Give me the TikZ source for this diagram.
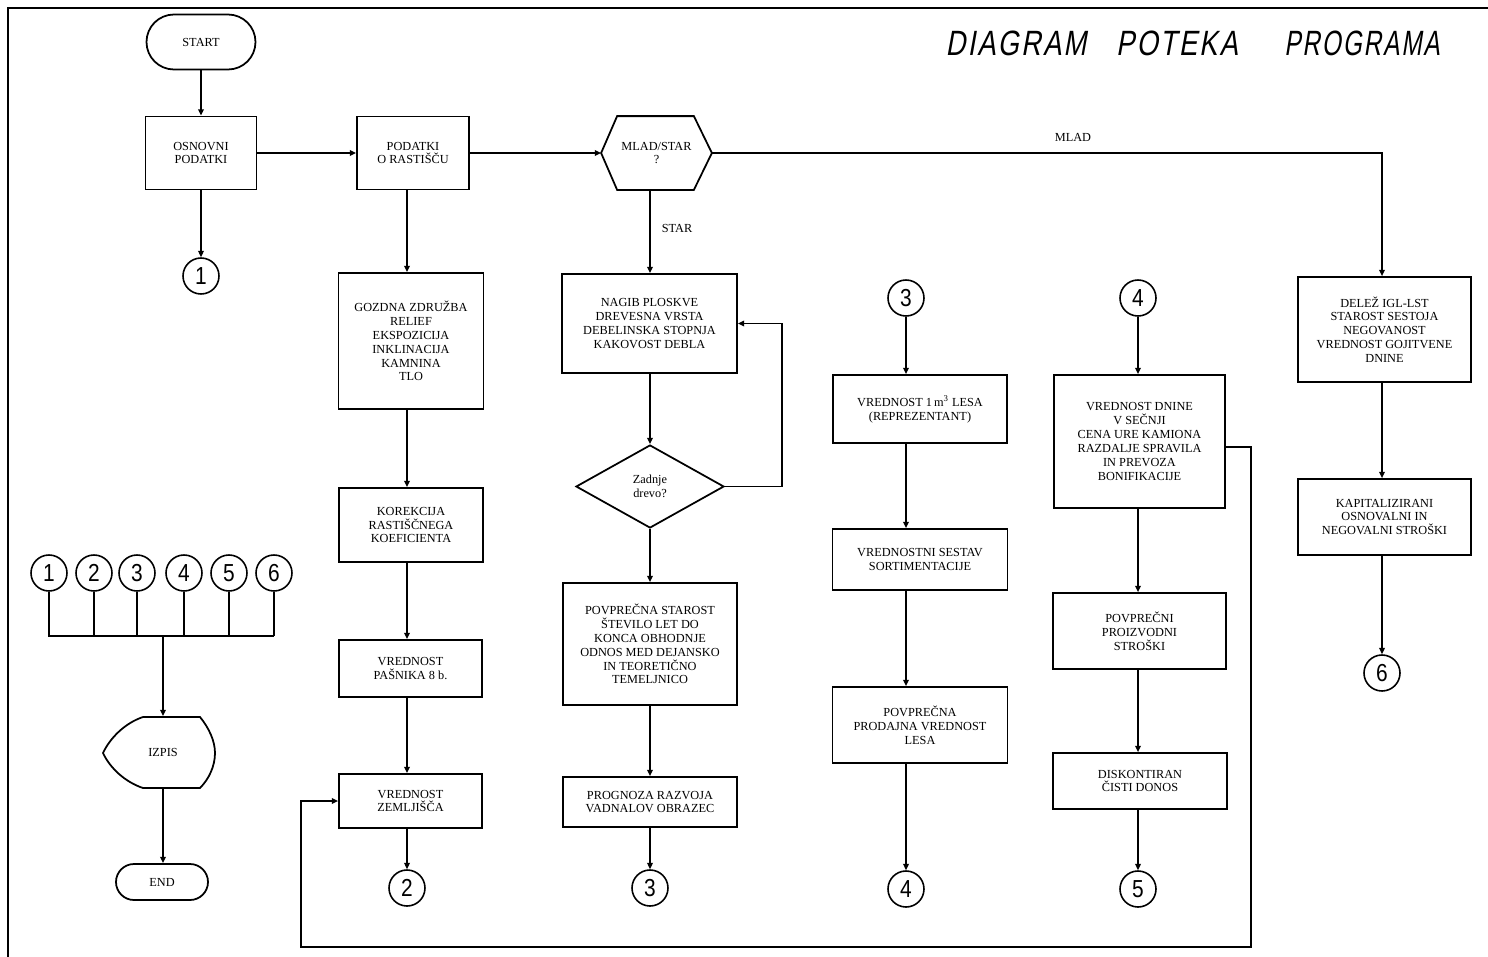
\documentclass[tikz,border=0pt]{standalone}
\usepackage{fontspec}
\setmainfont{Liberation Serif}
\newfontfamily\titlefont[FakeStretch=0.78,FakeSlant=0.18,LetterSpace=6]{Liberation Sans}
\newfontfamily\digitfont[FakeStretch=0.85]{Liberation Sans}
\usetikzlibrary{arrows.meta,shapes.geometric,shapes.misc,calc}
\begin{document}
\begin{tikzpicture}[x=0.02cm,y=-0.02cm,
  sz/.style 2 args={minimum width=#1*0.02cm,minimum height=#2*0.02cm},
  box/.style={draw,line width=1pt,inner sep=0pt,align=center,font=\fontsize{7}{7.9}\selectfont},
  term/.style={box,rounded rectangle},
  conn/.style={draw,circle,line width=0.9pt,minimum size=0.72cm,inner sep=0pt,font=\digitfont\fontsize{14}{14}\selectfont},
  arr/.style={line width=0.8pt,-{Triangle[length=3.6pt,width=3.2pt]}},
  ln/.style={line width=0.8pt},
  lbl/.style={font=\fontsize{7}{8}\selectfont,inner sep=1pt},
  ttl/.style={font=\titlefont\fontsize{20}{20}\selectfont,inner sep=0pt}]
\useasboundingbox (0,0) rectangle (1488,957);
% frame
\draw[ln] (8,957) -- (8,8) -- (1488,8);
% title
\node[ttl] (t1) at (1016,43) {DIAGRAM};
\node[ttl] (t2) at (1177,43) {POTEKA};
\node[ttl] (t3) at (1362,43) {\scalebox{0.89}[1]{PROGRAMA}};

% column 1
\node[term,sz={109}{55}] (start) at (201,42) {START};
\node[box,sz={111}{73}] (osn) at (201,153) {OSNOVNI\\PODATKI};
\node[conn] (c1) at (201,276) {1};

% column 2
\node[box,sz={112}{73}] (pod) at (413,153) {PODATKI\\O RASTIŠČU};
\node[box,sz={145}{136}] (gozd) at (411,341) {GOZDNA ZDRUŽBA\\RELIEF\\EKSPOZICIJA\\INKLINACIJA\\KAMNINA\\TLO};
\node[box,sz={144}{74}] (kor) at (411,525) {KOREKCIJA\\RASTIŠČNEGA\\KOEFICIENTA};
\node[box,sz={143}{57}] (pas) at (410.5,668.5) {VREDNOST\\PAŠNIKA 8 b.};
\node[box,sz={143}{54}] (zem) at (410.5,801) {VREDNOST\\ZEMLJIŠČA};
\node[conn] (c2) at (407,888) {2};

% column 3
\node[box,draw=none,sz={109}{72}] (hex) at (656.5,153) {MLAD/STAR\\?};
\draw[line width=1pt] (hex.west) -- ([xshift=0.32cm]hex.north west) -- ([xshift=-0.36cm]hex.north east) -- (hex.east) -- ([xshift=-0.36cm]hex.south east) -- ([xshift=0.32cm]hex.south west) -- cycle;
\node[box,sz={175}{99}] (nagib) at (649.5,323.5) {NAGIB PLOSKVE\\DREVESNA VRSTA\\DEBELINSKA STOPNJA\\KAKOVOST DEBLA};
\node[box,diamond,sz={148}{83}] (dia) at (650,486.5) {Zadnje\\drevo?};
\node[box,sz={174}{122}] (povst) at (650,644) {POVPREČNA STAROST\\ŠTEVILO LET DO\\KONCA OBHODNJE\\ODNOS MED DEJANSKO\\IN TEORETIČNO\\TEMELJNICO};
\node[box,sz={174}{50}] (prog) at (650,802) {PROGNOZA RAZVOJA\\VADNALOV OBRAZEC};
\node[conn] (c3b) at (650,888) {3};
\node[lbl] (lstar) at (677,228) {STAR};
\node[lbl] (lmlad) at (1073,137) {MLAD};

% column 4
\node[conn] (c3t) at (906,298) {3};
\node[box,sz={174}{68}] (v1m) at (920,409) {VREDNOST 1\,m\textsuperscript{3} LESA\\(REPREZENTANT)};
\node[box,sz={175}{61}] (sest) at (920,559.5) {VREDNOSTNI SESTAV\\SORTIMENTACIJE};
\node[box,sz={175}{76}] (prod) at (920,725) {POVPREČNA\\PRODAJNA VREDNOST\\LESA};
\node[conn] (c4b) at (906,889) {4};

% column 5
\node[conn] (c4t) at (1138,298) {4};
\node[box,sz={171}{133}] (dnine) at (1139.5,441.5) {VREDNOST DNINE\\V SEČNJI\\CENA URE KAMIONA\\RAZDALJE SPRAVILA\\IN PREVOZA\\BONIFIKACIJE};
\node[box,sz={173}{76}] (proiz) at (1139.5,631) {POVPREČNI\\PROIZVODNI\\STROŠKI};
\node[box,sz={174}{56}] (disk) at (1140,781) {DISKONTIRAN\\ČISTI DONOS};
\node[conn] (c5) at (1138,889) {5};

% column 6
\node[box,sz={173}{105}] (dele) at (1384.5,329.5) {DELEŽ IGL-LST\\STAROST SESTOJA\\NEGOVANOST\\VREDNOST GOJITVENE\\DNINE};
\node[box,sz={173}{76}] (kap) at (1384.5,517) {KAPITALIZIRANI\\OSNOVALNI IN\\NEGOVALNI STROŠKI};
\node[conn] (c6) at (1382,673) {6};

% left: collector
\foreach \i/\xx in {1/49,2/94,3/137,4/184,5/229,6/274}
  \node[conn] (L\i) at (\xx,573) {\i};
\coordinate (busM) at (163,636);
\node[box,draw=none,sz={112}{71}] (izpis) at (163,752.5) {IZPIS};
\draw[line width=1pt] (143,717) -- (200,717) .. controls (209,728) and (215,741) .. (215,753) .. controls (215,766) and (209,779) .. (200,788) -- (143,788) .. controls (125,782) and (110,768) .. (103,753) .. controls (110,738) and (125,723) .. (143,717) -- cycle;
\node[term,sz={92}{36}] (endn) at (162,882) {END};

% connectors
\draw[arr] (start.south) -- (osn.north);
\draw[arr] (osn.south) -- (c1.north);
\draw[arr] (osn.east) -- (pod.west);
\draw[arr] (pod.east) -- (hex.west);
\draw[arr] (hex.east) -| (c6 |- dele.north);
\draw[arr] (c3b |- hex.south) -- (c3b |- nagib.north);
\draw[arr] (c2 |- pod.south) -- (c2 |- gozd.north);
\draw[arr] (c2 |- gozd.south) -- (c2 |- kor.north);
\draw[arr] (c2 |- kor.south) -- (c2 |- pas.north);
\draw[arr] (c2 |- pas.south) -- (c2 |- zem.north);
\draw[arr] (c2 |- zem.south) -- (c2.north);
\draw[arr] (c3b |- nagib.south) -- (dia.north);
\draw[arr] (dia.south) -- (c3b |- povst.north);
\draw[arr] (dia.east) -- ++(57,0) |- (nagib.east);
\draw[arr] (c3b |- povst.south) -- (c3b |- prog.north);
\draw[arr] (c3b |- prog.south) -- (c3b.north);
\draw[arr] (c3t.south) -- (c3t |- v1m.north);
\draw[arr] (c3t |- v1m.south) -- (c3t |- sest.north);
\draw[arr] (c3t |- sest.south) -- (c3t |- prod.north);
\draw[arr] (c3t |- prod.south) -- (c4b.north);
\draw[arr] (c4t.south) -- (c4t |- dnine.north);
\draw[arr] (c4t |- dnine.south) -- (c4t |- proiz.north);
\draw[arr] (c4t |- proiz.south) -- (c4t |- disk.north);
\draw[arr] (c4t |- disk.south) -- (c5.north);
\draw[arr] (c6 |- dele.south) -- (c6 |- kap.north);
\draw[arr] (c6 |- kap.south) -- (c6.north);
\coordinate (fbR) at (1251,947);
\coordinate (fbL) at (301,947);
\draw[arr] ([yshift=-0.11cm]dnine.east) -| (fbR) -- (fbL) |- (zem.west);
\draw[ln] (L1.south) |- (L6.south |- busM);
\foreach \i in {2,...,6} \draw[ln] (L\i.south) -- (L\i.south |- busM);
\draw[arr] (busM) -- (izpis.north);
\draw[arr] (izpis.south) -- (izpis.south |- endn.north);
\end{tikzpicture}
\end{document}
